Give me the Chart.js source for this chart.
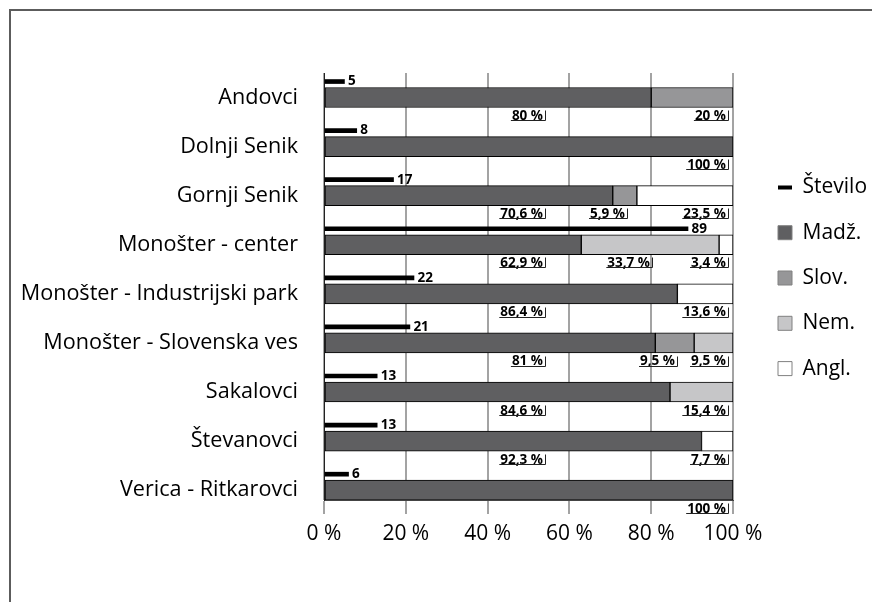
<!DOCTYPE html>
<html><head><meta charset="utf-8">
<script src="https://cdn.jsdelivr.net/npm/chart.js@4.4.0/dist/chart.umd.min.js"></script>
<style>
html,body{margin:0;padding:0;background:#fff;overflow:hidden;}
#wrap{position:relative;width:872px;height:602px;overflow:hidden;}
#frame{position:absolute;left:9px;top:9px;width:900px;height:700px;border-left:2px solid #5c5c5c;border-top:2px solid #5c5c5c;pointer-events:none;}
canvas{position:absolute;left:0;top:0;}
</style></head><body>
<div id="wrap"><canvas id="c" width="872" height="602"></canvas><div id="frame"></div></div>
<script>
// ---- data ----
const categories = ['Andovci','Dolnji Senik','Gornji Senik','Monošter - center','Monošter - Industrijski park','Monošter - Slovenska ves','Sakalovci','Števanovci','Verica - Ritkarovci'];
const stevilo = [5, 8, 17, 89, 22, 21, 13, 13, 6];
const madz = [80, 100, 70.6, 62.9, 86.4, 81, 84.6, 92.3, 100];
const slov = [20, 0, 5.9, 0, 0, 9.5, 0, 0, 0];
const nem  = [0, 0, 0, 33.7, 0, 9.5, 15.4, 0, 0];
const angl = [0, 0, 23.5, 3.4, 13.6, 0, 0, 7.7, 0];
const xTicks = [0, 20, 40, 60, 80, 100];
const seriesNames = ['Število', 'Madž.', 'Slov.', 'Nem.', 'Angl.'];

// ---- style / layout ----
const FONT = "'Open Sans', sans-serif";
const COLORS = ['#000000', '#5f5f61', '#969698', '#c6c6c8', '#ffffff'];
const COUNT_SHIFT = 0.326;
const LABEL_SHIFT = 0.38;

const pctSeries = [madz, slov, nem, angl];
const fmt = v => (Number.isInteger(v) ? String(v) : v.toFixed(1).replace('.', ',')) + ' %';

Chart.defaults.font.family = FONT;

const datasets = [{
  label: seriesNames[0],
  data: stevilo.map((v, i) => ({x: v, y: i - COUNT_SHIFT})),
  backgroundColor: COLORS[0], borderWidth: 0, barThickness: 4,
  stack: 'count', grouped: false
}].concat(pctSeries.map((arr, k) => ({
  label: seriesNames[k + 1],
  data: arr.map((v, i) => ({x: v === 0 ? null : v, y: i})),
  backgroundColor: COLORS[k + 1], borderColor: '#000', borderWidth: 1, borderSkipped: false,
  barThickness: 20, stack: 'pct', grouped: false
})));

const labelPlugin = {
  id: 'segLabels',
  afterDatasetsDraw(chart) {
    const {ctx} = chart;
    const x = chart.scales.x, y = chart.scales.y;
    ctx.save();
    ctx.font = 'bold 13.5px ' + FONT;
    ctx.fillStyle = '#000';
    ctx.textBaseline = 'middle';
    // count labels
    const cm = chart.getDatasetMeta(0);
    cm.data.forEach((bar, i) => {
      ctx.textAlign = 'left';
      ctx.fillText(String(stevilo[i]), bar.x + 3.5, bar.y);
    });
    // percentage labels
    ctx.strokeStyle = '#222';
    ctx.lineWidth = 1;
    categories.forEach((c, i) => {
      let cum = 0; const items = [];
      pctSeries.forEach(arr => { const v = arr[i]; if (v > 0) items.push({v, start: cum, end: cum + v}); cum += v; });
      const yc = y.getPixelForValue(i + LABEL_SHIFT);
      items.forEach((it, k) => {
        let right;
        if (it.end >= 99.9) right = x.getPixelForValue(100) - 7;
        else if (k === 0) right = x.getPixelForValue(53.5);
        else right = x.getPixelForValue((it.start + it.end) / 2);
        right = Math.round(right);
        const txt = fmt(it.v);
        const w = ctx.measureText(txt).width;
        ctx.textAlign = 'right';
        ctx.fillText(txt, right, yc);
        const ub = Math.round(yc + 4) + 0.5;
        ctx.beginPath();
        ctx.moveTo(right - w - 1, ub); ctx.lineTo(right + 2.5, ub);
        ctx.moveTo(right + 2.5, ub); ctx.lineTo(right + 2.5, ub - 10);
        ctx.stroke();
      });
    });
    ctx.restore();
  }
};

new Chart(document.getElementById('c'), {
  type: 'bar',
  data: {datasets},
  plugins: [labelPlugin],
  options: {
    indexAxis: 'y',
    responsive: false,
    animation: false,
    devicePixelRatio: 1,
    layout: {padding: {top: 73, right: 0, bottom: 0, left: 0}},
    scales: {
      x: {
        type: 'linear', min: 0, max: 100, stacked: true, position: 'bottom',
        afterBuildTicks: s => { s.ticks = xTicks.map(v => ({value: v})); },
        afterFit: s => { s.height = 102; },
        ticks: {callback: v => v + ' %', font: {family: FONT, size: 21}, color: '#000', padding: 7, maxRotation: 0, autoSkip: false},
        grid: {color: '#a3a3a3', lineWidth: 2, drawTicks: true, tickLength: 14, tickColor: '#a3a3a3'},
        border: {display: true, color: '#444', width: 1}
      },
      y: {
        type: 'linear', min: -0.5, max: categories.length - 1 + 0.2, reverse: true, position: 'left', offset: false,
        afterBuildTicks: s => { s.ticks = categories.map((c, i) => ({value: i})); },
        afterFit: s => { s.width = 324; },
        ticks: {callback: (v, i) => categories[i], font: {family: FONT, size: 21.6}, color: '#000', padding: 26, autoSkip: false},
        grid: {display: false, drawTicks: false, offset: false},
        border: {display: true, color: '#222', width: 1}
      },
      gap: {
        type: 'linear', position: 'right', display: true,
        grid: {display: false, drawTicks: false}, border: {display: false}, ticks: {display: false},
        afterFit: s => { s.width = 20.7; }
      }
    },
    plugins: {
      tooltip: {enabled: false},
      legend: {
        position: 'right', align: 'start', fullSize: false, maxWidth: 118.3,
        title: {display: true, text: '', padding: {top: 32.6, bottom: 32.6}, font: {size: 12, lineHeight: 1.2}},
        labels: {
          font: {family: FONT, size: 21}, color: '#000', padding: 24.3,
          usePointStyle: true, boxWidth: 14, boxHeight: 14, pointStyleWidth: 14,
          generateLabels: chart => chart.data.datasets.map((ds, i) => ({
            text: ds.label,
            fillStyle: COLORS[i],
            strokeStyle: i === 0 ? '#000' : '#808080',
            lineWidth: i === 0 ? 4 : 1,
            pointStyle: i === 0 ? 'line' : 'rect',
            hidden: false, datasetIndex: i, fontColor: '#000'
          }))
        }
      }
    }
  }
});
</script>
</body></html>
